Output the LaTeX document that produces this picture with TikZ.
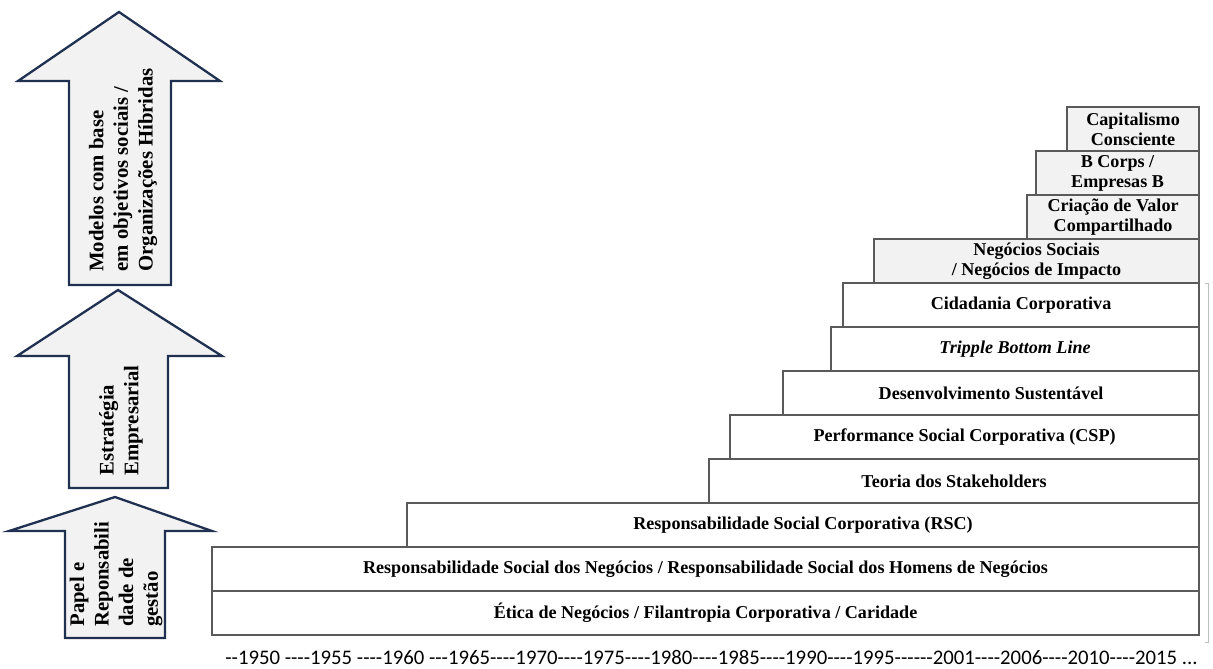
\documentclass[tikz,border=0pt]{standalone}
\usepackage{fontspec}
\setmainfont{Liberation Serif}
\newfontfamily\timelinefont[Ligatures=TeXOff]{Carlito}
\usepackage{xcolor}
\usepackage{tikz}
\usetikzlibrary{positioning}

\definecolor{arrowblue}{HTML}{1F3050}
\definecolor{boxgray}{HTML}{F2F2F2}
\definecolor{edgegray}{HTML}{5A5A5A}

\begin{document}
\begin{tikzpicture}[
                font=\fontsize{10.3}{11.4}\selectfont\bfseries,
                bar/.style={draw=edgegray, line width=1.1pt, fill=white, align=center, minimum height=0.88cm, inner sep=0pt, anchor=south east},
                newbar/.style={bar, fill=boxgray},
                bigarrow/.style={draw=arrowblue, line width=1.3pt, fill=boxgray, line join=miter},
                arrowtext/.style={rotate=90, anchor=west, align=left, inner sep=0pt, font=\fontsize{11.8}{14}\selectfont\bfseries},
                yearline/.style={anchor=base west, inner sep=0pt, font=\timelinefont\fontsize{11.8}{14}\selectfont}
            ]
            \useasboundingbox (0,0) rectangle (24.26,13.36);
            % arrows on the left
            \draw[bigarrow] (1.38,7.66) -- (1.38,11.74) -- (0.36,11.74) -- (2.38,13.12)
            -- (4.40,11.74) -- (3.42,11.74) -- (3.42,7.66) -- cycle;
            \draw[bigarrow] (1.38,3.60) -- (1.38,6.24) -- (0.34,6.24) -- (2.36,7.56)
            -- (4.44,6.24) -- (3.36,6.24) -- (3.36,3.60) -- cycle;
            \draw[bigarrow] (1.30,0.60) -- (1.30,2.74) -- (0.18,2.74) -- (2.30,3.42)
            -- (4.24,2.74) -- (3.30,2.74) -- (3.30,0.60) -- cycle;
            \node[arrowtext] (modelos) at (2.46,7.92) {Modelos com base\\em objetivos sociais /\\Organizações Híbridas};
            \node[arrowtext] (estrategia) at (2.42,3.84) {Estratégia\\Empresarial};
            \node[arrowtext] (papel) at (2.32,0.82) {Papel e\\Reponsabili\\dade de\\gestão};
            % bars
            \node[bar, minimum width=19.74cm] (etica) at (24,0.64) {Ética de Negócios / Filantropia Corporativa / Caridade};
            \node[bar, minimum width=19.74cm] (rsn) at (24,1.52) {Responsabilidade Social dos Negócios / Responsabilidade Social dos Homens de Negócios};
            \node[bar, minimum width=15.84cm] (rsc) at (24,2.40) {Responsabilidade Social Corporativa (RSC)};
            \node[bar, minimum width=9.80cm] (teoria) at (24,3.28) {Teoria dos Stakeholders};
            \node[bar, minimum width=9.38cm] (csp) at (24,4.16) {Performance Social Corporativa (CSP)};
            \node[bar, minimum width=8.32cm] (desenv) at (24,5.04) {Desenvolvimento Sustentável};
            \node[bar, minimum width=7.36cm] (tbl) at (24,5.92) {\itshape Tripple Bottom Line};
            \node[bar, minimum width=7.12cm] (cidadania) at (24,6.80) {Cidadania Corporativa};
            \node[newbar, minimum width=6.50cm] (negocios) at (24,7.68) {Negócios Sociais\\/ Negócios de Impacto};
            \node[newbar, minimum width=3.44cm] (criacao) at (24,8.56) {Criação de Valor\\Compartilhado};
            \node[newbar, minimum width=3.26cm] (bcorps) at (24,9.44) {B Corps /\\Empresas B};
            \node[newbar, minimum width=2.64cm] (capitalismo) at (24,10.32) {Capitalismo\\Consciente};
            \draw[black!25, line width=0.5pt] (24.10,7.70) -- (24.16,7.70) -- (24.16,0.52) -- (24.10,0.52);
            % timeline
            \node[yearline] (anos) at (4.50,0.08) {--1950 ----1955 ----1960 ---1965----1970----1975----1980----1985----1990----1995------2001----2006----2010----2015 ...};
        \end{tikzpicture}
\end{document}
